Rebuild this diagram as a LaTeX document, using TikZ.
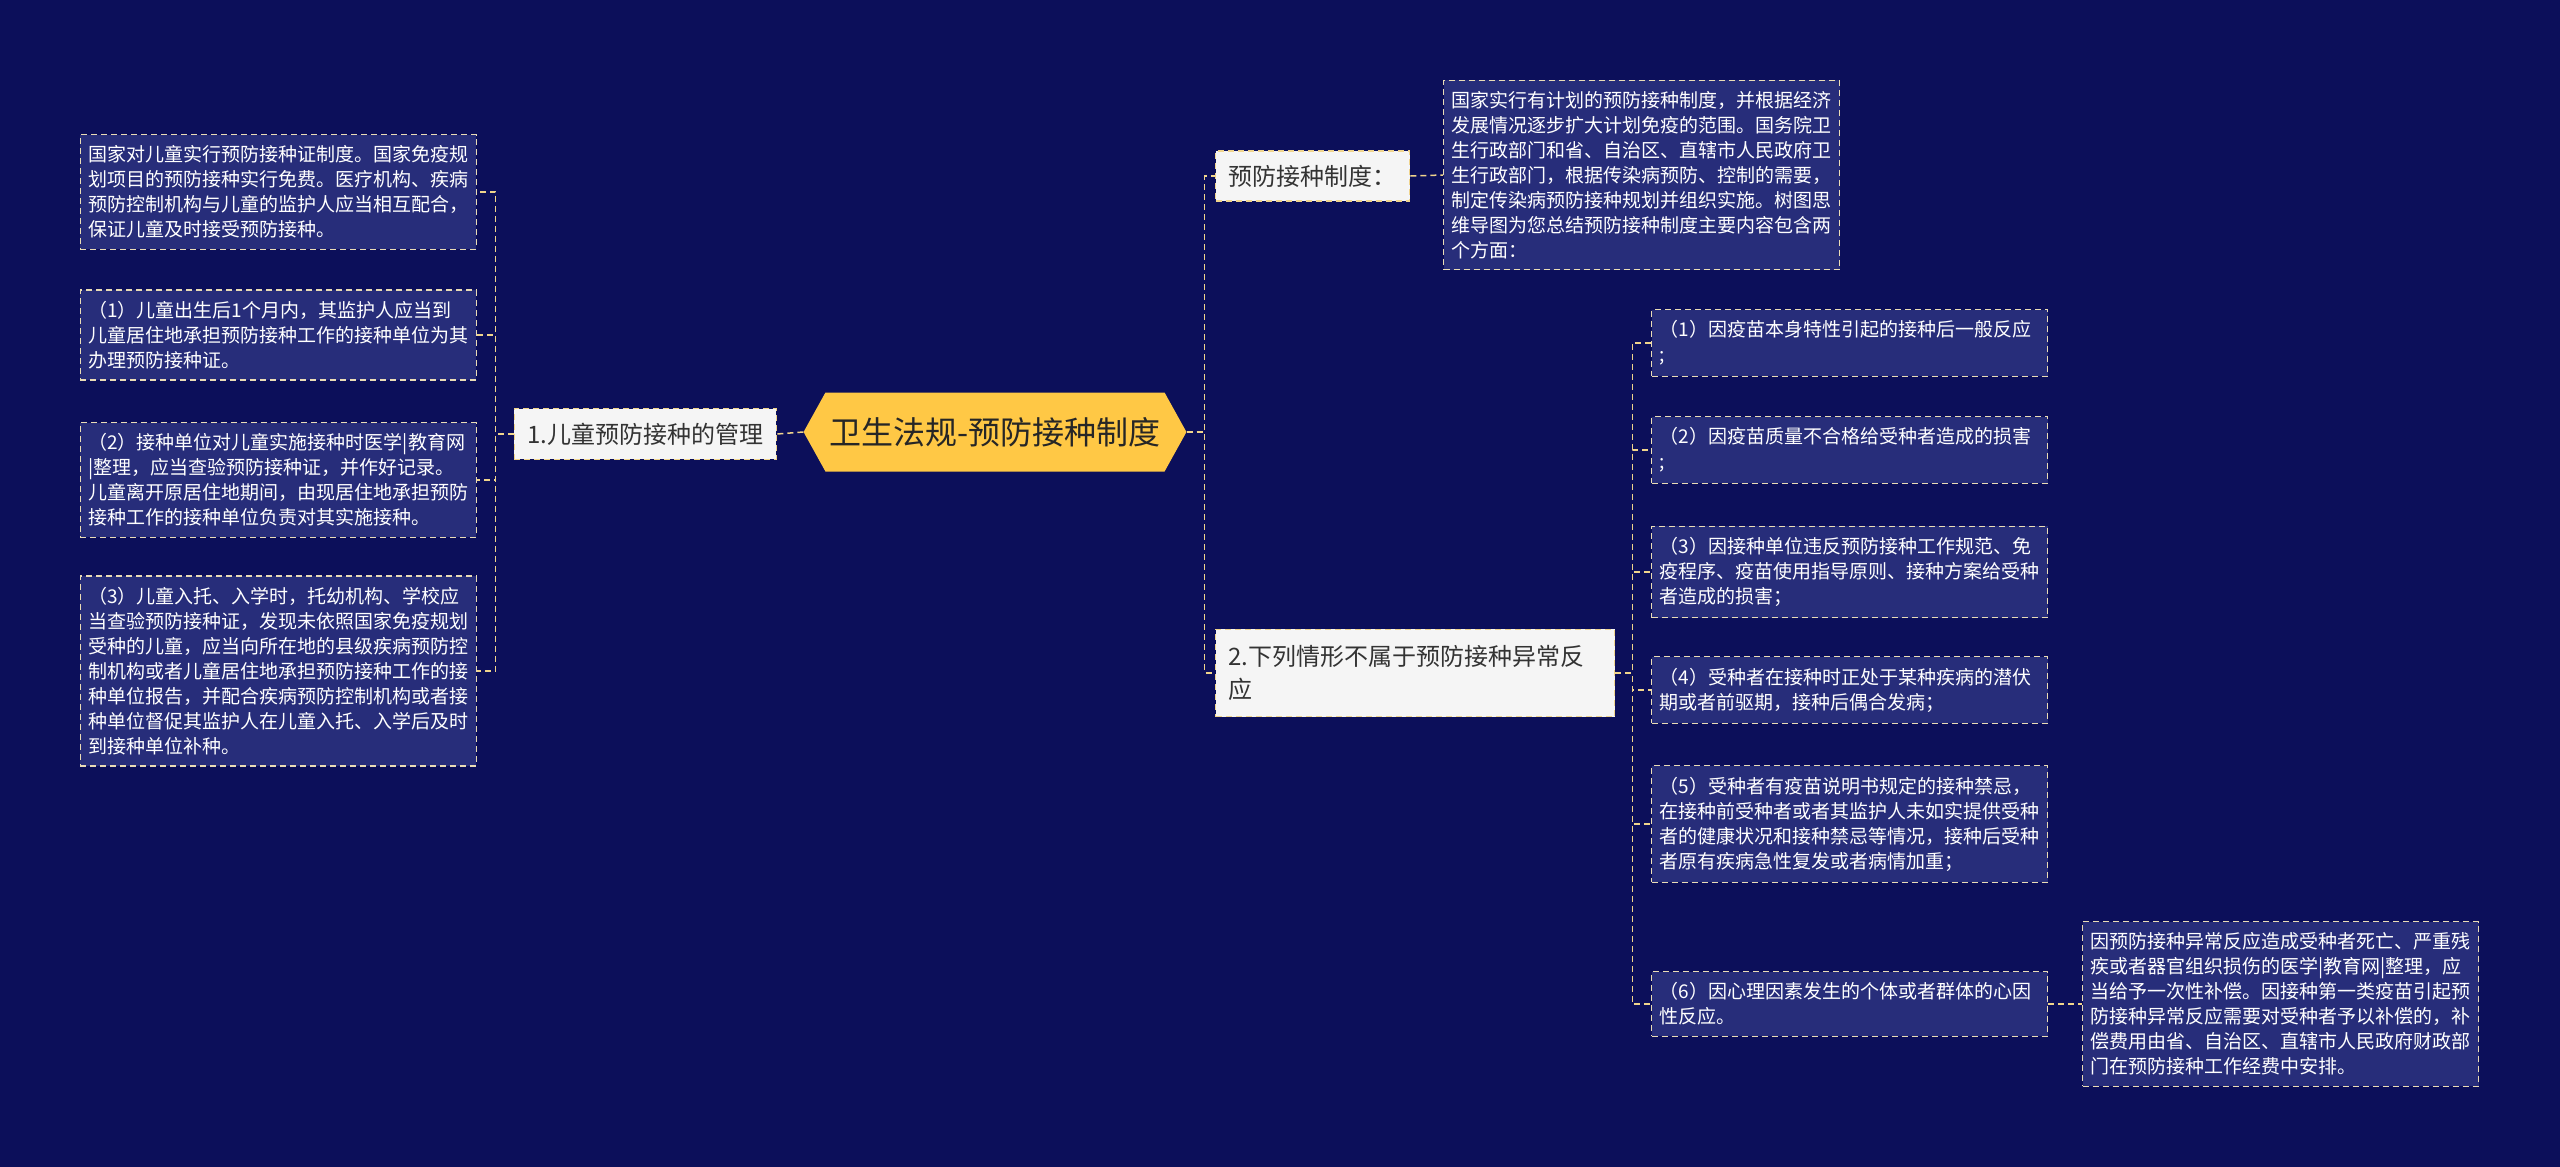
\documentclass[tikz,border=0pt]{standalone}
\usepackage{fontspec}
\usepackage{tikz}
\usetikzlibrary{positioning, shapes, shapes.symbols, calc}
\newfontfamily\cjk{Noto Sans CJK SC}
\definecolor{bgblue}{HTML}{0C0F5A}
\definecolor{leafblue}{HTML}{272D7A}
\definecolor{dashcream}{HTML}{EADCB6}
\definecolor{linegold}{HTML}{F0D48C}
\definecolor{rootgold}{HTML}{FFC845}
\definecolor{notewhite}{HTML}{F5F5F5}

\begin{document}
\begin{tikzpicture}[x=1pt, y=-1pt,
    leaf/.style={draw=dashcream, fill=leafblue, dash pattern=on 6pt off 4pt, line width=1.3pt,
        text=white, font=\cjk\fontsize{19}{25}\selectfont, text width=380pt, align=left,
        inner xsep=8pt, inner ysep=11pt},
    topic/.style={draw=linegold, fill=notewhite, dash pattern=on 6pt off 4pt, line width=1.3pt,
        text=black!80, font=\cjk\fontsize{24}{33}\selectfont, align=left,
        inner xsep=13pt, inner ysep=14pt},
    link/.style={draw=linegold, dash pattern=on 6pt off 4pt, line width=1.5pt}]
\fill[bgblue] (0,0) rectangle (2560,1167);

\node[signal, signal to=east and west, signal pointer angle=122, fill=rootgold,
    inner xsep=4pt, minimum height=79pt, text=black!85,
    font=\cjk\fontsize{32}{38}\selectfont] (root) at (995,432) {卫生法规-预防接种制度};

% left branch
\node[topic, anchor=east] (n1) at (777,434) {1.儿童预防接种的管理};
\node[leaf, anchor=east] (l0) at (477,192) {国家对儿童实行预防接种证制度。国家免疫规\\划项目的预防接种实行免费。医疗机构、疾病\\预防控制机构与儿童的监护人应当相互配合，\\保证儿童及时接受预防接种。};
\node[leaf, anchor=east] (l1) at (477,335) {（1）儿童出生后1个月内，其监护人应当到\\儿童居住地承担预防接种工作的接种单位为其\\办理预防接种证。};
\node[leaf, anchor=east] (l2) at (477,480) {（2）接种单位对儿童实施接种时医学|教育网\\|整理，应当查验预防接种证，并作好记录。\\儿童离开原居住地期间，由现居住地承担预防\\接种工作的接种单位负责对其实施接种。};
\node[leaf, anchor=east] (l3) at (477,671) {（3）儿童入托、入学时，托幼机构、学校应\\当查验预防接种证，发现未依照国家免疫规划\\受种的儿童，应当向所在地的县级疾病预防控\\制机构或者儿童居住地承担预防接种工作的接\\种单位报告，并配合疾病预防控制机构或者接\\种单位督促其监护人在儿童入托、入学后及时\\到接种单位补种。};

% right branch
\node[topic, anchor=west] (n2a) at (1215,176) {预防接种制度：};
\node[leaf, anchor=west] (desc) at (1443,175) {国家实行有计划的预防接种制度，并根据经济\\发展情况逐步扩大计划免疫的范围。国务院卫\\生行政部门和省、自治区、直辖市人民政府卫\\生行政部门，根据传染病预防、控制的需要，\\制定传染病预防接种规划并组织实施。树图思\\维导图为您总结预防接种制度主要内容包含两\\个方面：};
\node[topic, anchor=west, text width=373pt, inner ysep=16pt] (n2b) at (1215,673) {2.下列情形不属于预防接种异常反\\应};
\node[leaf, anchor=west] (c1) at (1651,343) {（1）因疫苗本身特性引起的接种后一般反应\\;};
\node[leaf, anchor=west] (c2) at (1651,450) {（2）因疫苗质量不合格给受种者造成的损害\\;};
\node[leaf, anchor=west] (c3) at (1651,572) {（3）因接种单位违反预防接种工作规范、免\\疫程序、疫苗使用指导原则、接种方案给受种\\者造成的损害；};
\node[leaf, anchor=west] (c4) at (1651,690) {（4）受种者在接种时正处于某种疾病的潜伏\\期或者前驱期，接种后偶合发病；};
\node[leaf, anchor=west] (c5) at (1651,824) {（5）受种者有疫苗说明书规定的接种禁忌，\\在接种前受种者或者其监护人未如实提供受种\\者的健康状况和接种禁忌等情况，接种后受种\\者原有疾病急性复发或者病情加重；};
\node[leaf, anchor=west] (c6) at (1651,1004) {（6）因心理因素发生的个体或者群体的心因\\性反应。};
\node[leaf, anchor=west] (c6note) at (2082,1004) {因预防接种异常反应造成受种者死亡、严重残\\疾或者器官组织损伤的医学|教育网|整理，应\\当给予一次性补偿。因接种第一类疫苗引起预\\防接种异常反应需要对受种者予以补偿的，补\\偿费用由省、自治区、直辖市人民政府财政部\\门在预防接种工作经费中安排。};

\draw[link] (root.west) -- (n1.east);
\foreach \k in {0,...,3} \draw[link] (n1.west) -- ++(-18,0) |- (l\k.east);
\draw[link] (root.east) -- ++(18,0) |- (n2a.west);
\draw[link] (root.east) -- ++(18,0) |- (n2b.west);
\draw[link] (n2a.east) -- (desc.west);
\foreach \k in {1,...,6} \draw[link] (n2b.east) -- ++(17,0) |- (c\k.east -| c\k.west);
\draw[link] (c6.east) -- (c6note.west);
\end{tikzpicture}
\end{document}
